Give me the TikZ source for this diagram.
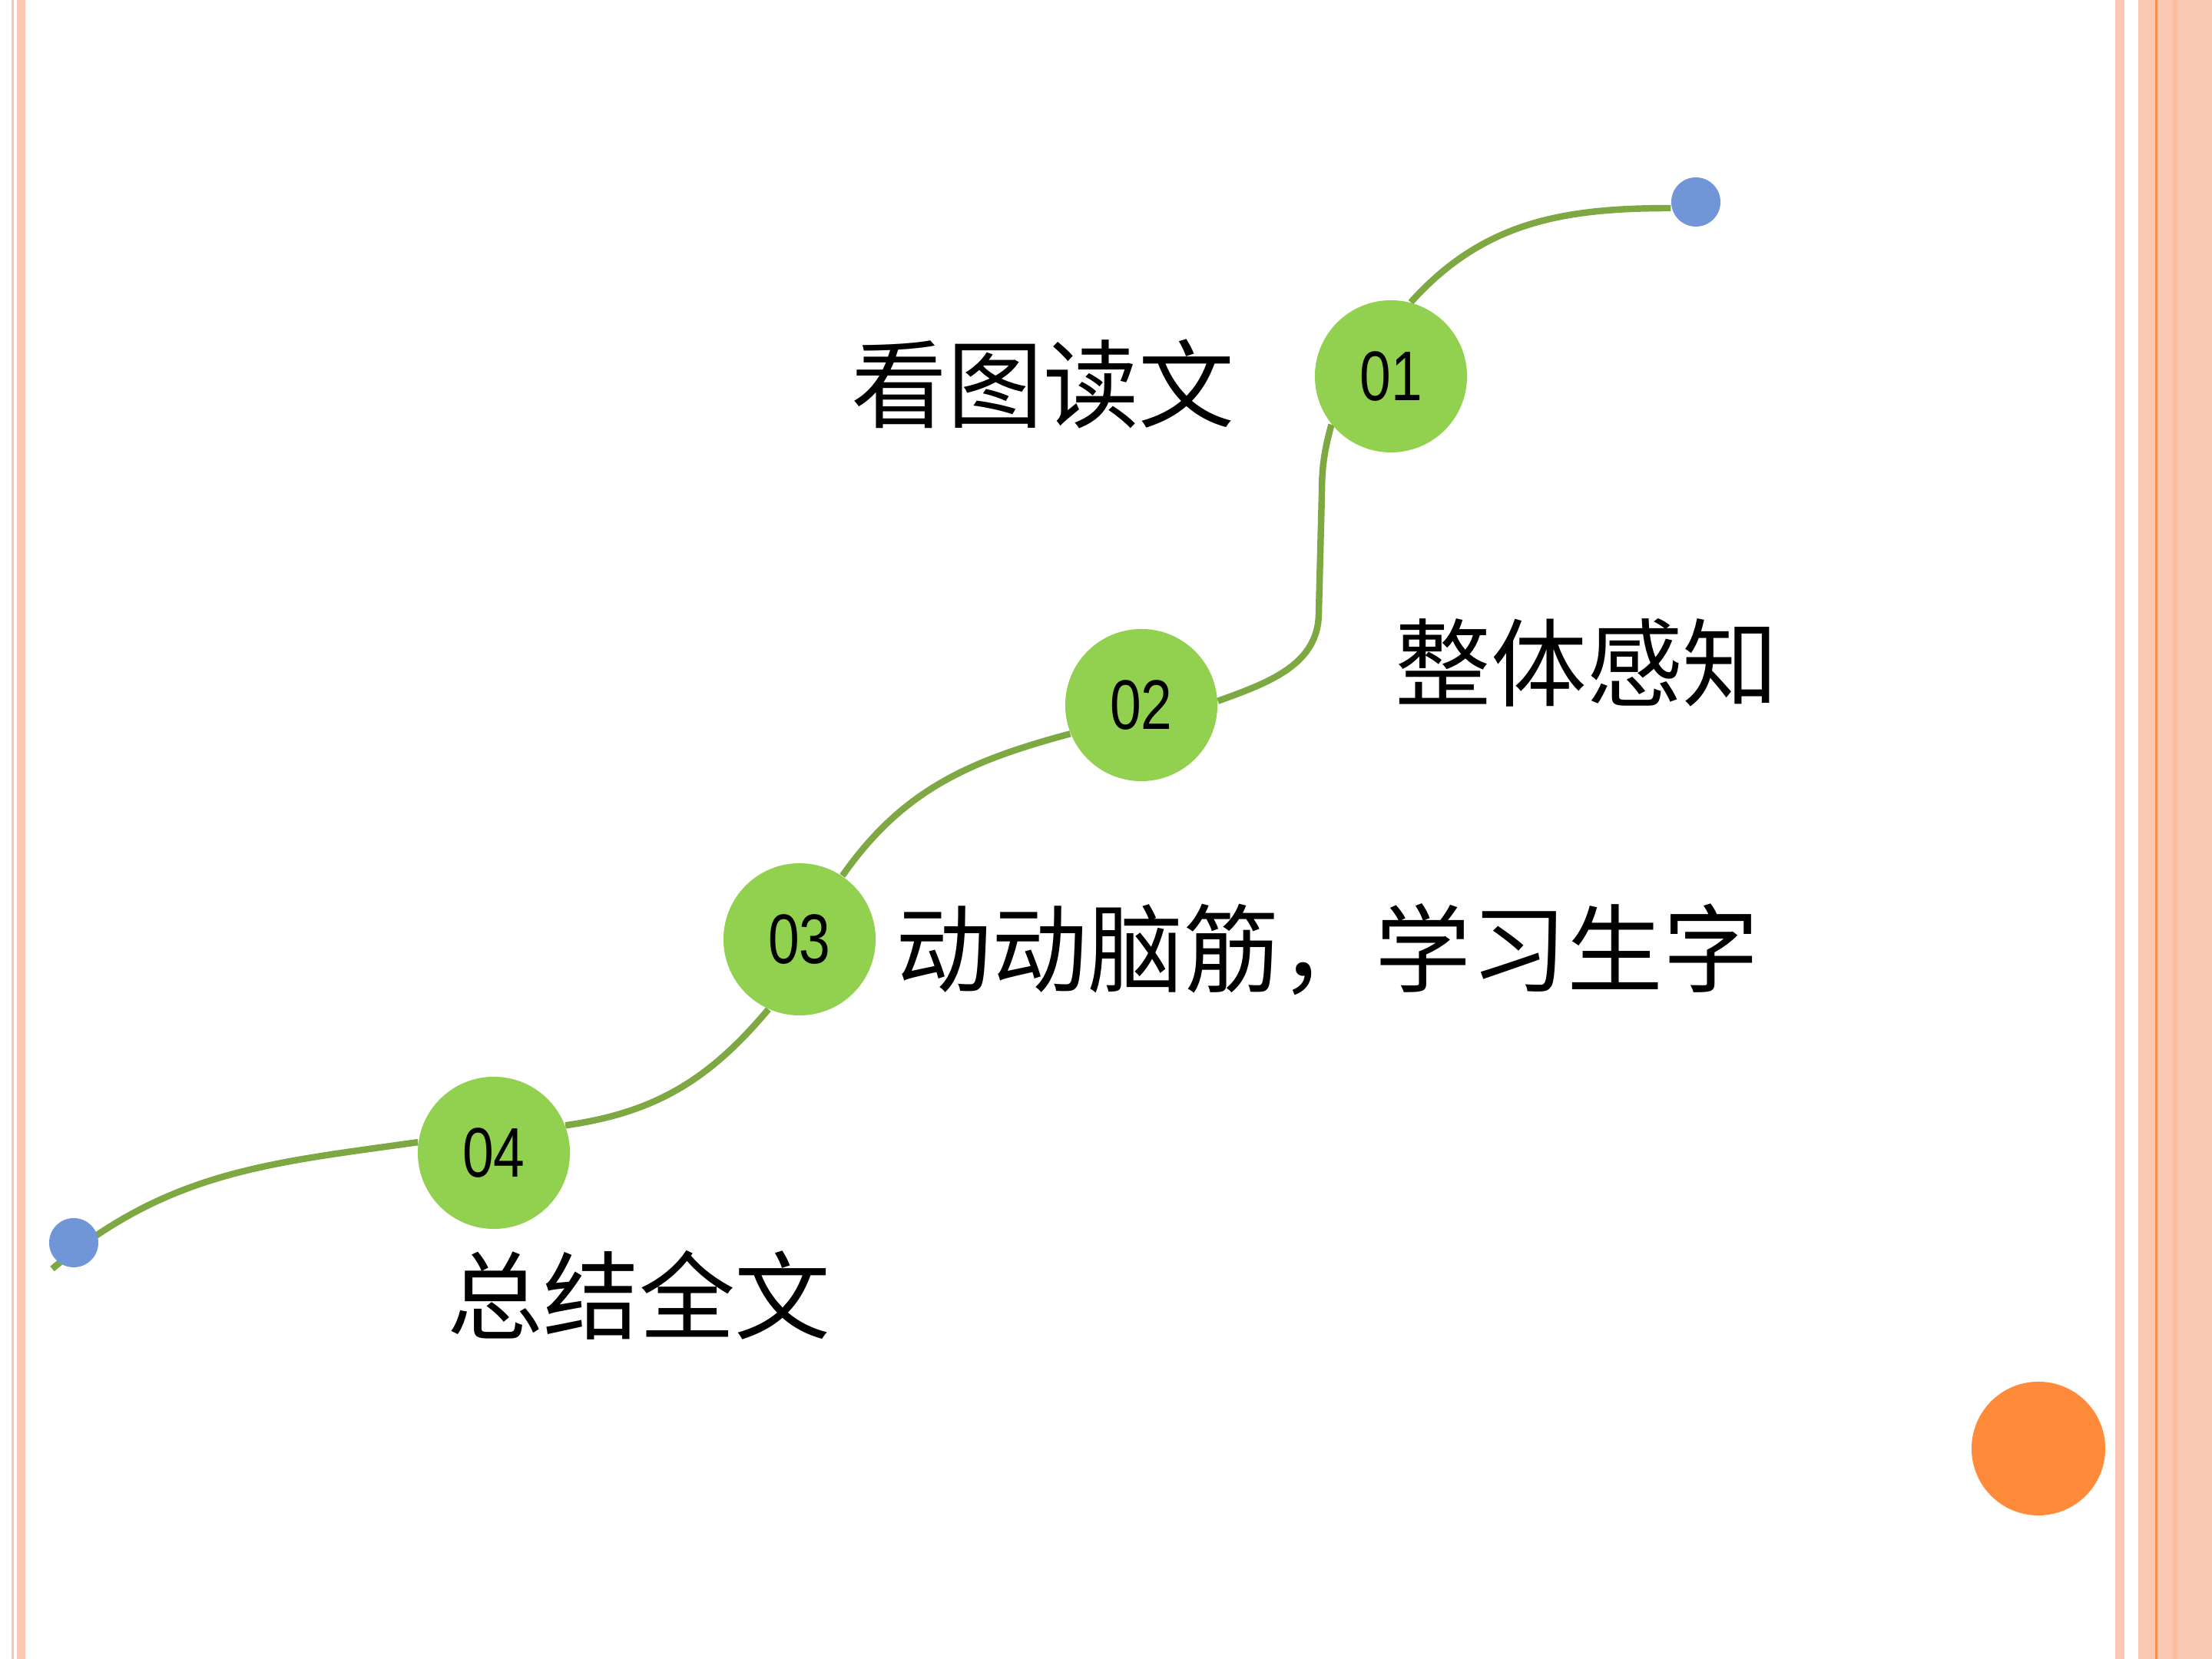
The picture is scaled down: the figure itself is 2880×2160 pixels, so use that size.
\documentclass[tikz,border=0pt]{standalone}
\usepackage{fontspec}
\setmainfont{Liberation Sans}
\newfontfamily\numfont[FakeStretch=0.8]{Liberation Sans}
\newfontfamily\cjk{Noto Sans CJK SC}
\usetikzlibrary{positioning, backgrounds}

\definecolor{stepgreen}{HTML}{92D050}
\definecolor{vinegreen}{HTML}{7EA842}
\definecolor{dotblue}{HTML}{7096D8}
\definecolor{dotorange}{HTML}{FF8A3A}
\definecolor{salmon}{HTML}{FBC8B3}
\definecolor{salmonlight}{HTML}{F6C4B4}
\definecolor{salmondark}{HTML}{FBBC9F}
\definecolor{salmonline}{HTML}{F7904B}

\begin{document}
\begin{tikzpicture}[
        x=0.01cm, y=0.01cm,
        stepnode/.style={circle, fill=stepgreen, minimum size=1.98cm, inner sep=0pt, font=\numfont\fontsize{26}{30}\selectfont},
        endpt/.style={circle, fill=dotblue, minimum size=0.64cm, inner sep=0pt},
        vine/.style={draw=vinegreen, line width=2.4pt},
        txt/.style={font=\cjk\fontsize{35.5}{40}\selectfont, inner sep=0pt}
    ]
        \useasboundingbox (0,0) rectangle (2880,2160);
        % page frame
        \begin{scope}[on background layer]
            \fill[white] (0,0) rectangle (2880,2160);
            \fill[salmonlight] (15,0) rectangle (18,2160);
            \fill[salmon] (22,0) rectangle (33,2160);
            \fill[salmon] (2754,0) rectangle (2766,2160);
            \fill[salmon] (2784,0) rectangle (2880,2160);
            \fill[salmonline] (2806,0) rectangle (2809,2160);
            \fill[salmondark] (2829,0) rectangle (2835,2160);
        \end{scope}
        \node[stepnode] (n01) at (1811,1670) {01};
        \node[stepnode] (n02) at (1486,1242) {02};
        \node[stepnode] (n03) at (1041,937) {03};
        \node[stepnode] (n04) at (643,659) {04};
        \node[endpt] (top) at (2208,1897) {};
        \node[endpt] (bottom) at (96,542) {};
        \node[circle, fill=dotorange, minimum size=1.74cm, inner sep=0pt] (deco) at (2654,274) {};
        \node[txt] (t01) at (1358,1660) {看图读文};
        \node[txt] (t02) at (2066,1297) {整体感知};
        \node[txt, anchor=west] (t03) at (1166,924) {动动脑筋，学习生字};
        \node[txt] (t04) at (832,474) {总结全文};
        \coordinate (tail) at (68,508);
        \coordinate (bendA) at (1717,1362);
        \coordinate (bendB) at (1721,1517);
        \begin{scope}[on background layer]
            \draw[vine] (tail) to[out=40, in=188] (n04.172);
            \draw[vine] (n04.21) to[out=8, in=230] (n03.246);
            \draw[vine] (n03.56) to[out=55, in=195] (n02.202);
            \draw[vine] (n02.3) to[out=20, in=-90] (bendA) -- (bendB) to[out=90, in=255] (n01.219);
            \draw[vine] (n01.75) to[out=48, in=180] ([yshift=-0.08cm]top.west);
        \end{scope}
    \end{tikzpicture}
\end{document}
